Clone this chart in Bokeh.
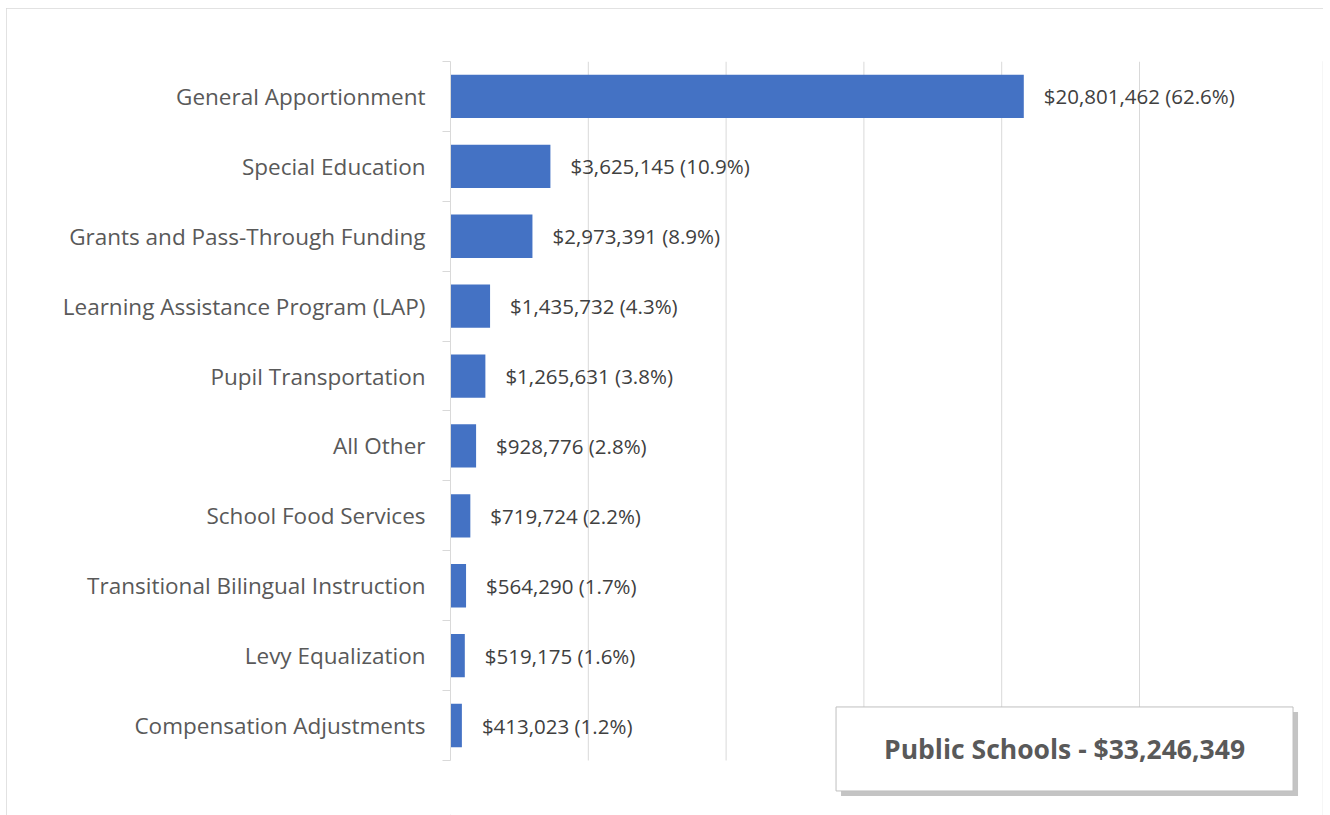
from bokeh.plotting import figure
from bokeh.models import (ColumnDataSource, Range1d, LinearAxis,
                          FixedTicker, CustomJSTickFormatter, Label)
from bokeh.core.properties import value
from bokeh.embed import file_html
from bokeh.resources import INLINE

categories = [
    "General Apportionment",
    "Special Education",
    "Grants and Pass-Through Funding",
    "Learning Assistance Program (LAP)",
    "Pupil Transportation",
    "All Other",
    "School Food Services",
    "Transitional Bilingual Instruction",
    "Levy Equalization",
    "Compensation Adjustments",
]
amounts = [20801462, 3625145, 2973391, 1435732, 1265631, 928776, 719724, 564290, 519175, 413023]
percents = ["62.6", "10.9", "8.9", "4.3", "3.8", "2.8", "2.2", "1.7", "1.6", "1.2"]
grid_ticks = [5000000, 10000000, 15000000, 20000000, 25000000]
total_title = "Public Schools - $33,246,349"

n = len(categories)
ypos = [n - i - 0.5 for i in range(n)]
labels = [f"${a:,} ({p}%)" for a, p in zip(amounts, percents)]
src = ColumnDataSource(dict(y=ypos, amt=amounts, lab=labels))

FONT = "Open Sans"
W, H = 1317, 807
X_END = 31.64e6
Y_BOTTOM = -0.787

p = figure(width=W, height=H, output_backend="svg", toolbar_location=None,
           y_range=Range1d(Y_BOTTOM, n), x_range=Range1d(0, X_END), y_axis_location=None,
           min_border_left=444, min_border_right=1, min_border_top=53, min_border_bottom=0)
p.styles = {"outline": "1px solid #d9d9d9", "outline-offset": "-1px",
            "margin-left": "6px", "margin-top": "8px"}
p.outline_line_color = None
p.background_fill_color = "white"
p.border_fill_color = "white"

p.xaxis.visible = False
p.xgrid.grid_line_color = None
p.ygrid.grid_line_color = None

# vertical gridlines limited to the category band
p.segment(x0=grid_ticks, y0=[0] * len(grid_ticks), x1=grid_ticks, y1=[n] * len(grid_ticks),
          line_color="#d9d9d9", line_width=1)

# boundary ticks axis (inner)
tick_axis = LinearAxis(ticker=FixedTicker(ticks=list(range(n + 1))),
                       formatter=CustomJSTickFormatter(code="return ''"), bounds=(0, n))
tick_axis.axis_line_color = "#d9d9d9"
tick_axis.major_tick_line_color = "#d9d9d9"
tick_axis.major_tick_out = 8
tick_axis.major_tick_in = 0
tick_axis.minor_tick_line_color = None
tick_axis.major_label_standoff = 0
p.add_layout(tick_axis, "left")

cat_axis = LinearAxis(ticker=FixedTicker(ticks=ypos))
cat_axis.major_label_overrides = {y: c for y, c in zip(ypos, categories)}
cat_axis.axis_line_color = None
cat_axis.major_tick_line_color = None
cat_axis.minor_tick_line_color = None
cat_axis.major_tick_out = 0
cat_axis.major_tick_in = 0
cat_axis.major_label_standoff = 17
cat_axis.major_label_text_font = FONT
cat_axis.major_label_text_font_size = "22.5px"
cat_axis.major_label_text_color = "#595959"
p.add_layout(cat_axis, "left")

p.hbar(y="y", right="amt", left=0, height=0.62, source=src,
       fill_color="#4472C4", line_color=None)

p.text(x="amt", y="y", text="lab", source=src, x_offset=20,
       text_baseline="middle", text_align="left",
       text_font=value(FONT), text_font_size="20.5px", text_color="#404040")

# title box with shadow
bx, by = 22.28e6, 0.165
pad = (48, 48, 24, 24)
shadow = Label(x=bx, y=by, text=total_title, text_align="center", text_baseline="middle",
               text_font=FONT, text_font_size="26.5px", text_font_style="bold",
               text_color="#c4c4c4", x_offset=5, y_offset=-5, padding=pad,
               background_fill_color="#c4c4c4", background_fill_alpha=1.0)
p.add_layout(shadow)
box = Label(x=bx, y=by, text=total_title, text_align="center", text_baseline="middle",
            text_font=FONT, text_font_size="26.5px", text_font_style="bold", text_color="#595959",
            padding=pad,
            background_fill_color="white", border_line_color="#bfbfbf", border_line_width=1)
p.add_layout(box)

open("out.html", "w").write(file_html(p, INLINE))
